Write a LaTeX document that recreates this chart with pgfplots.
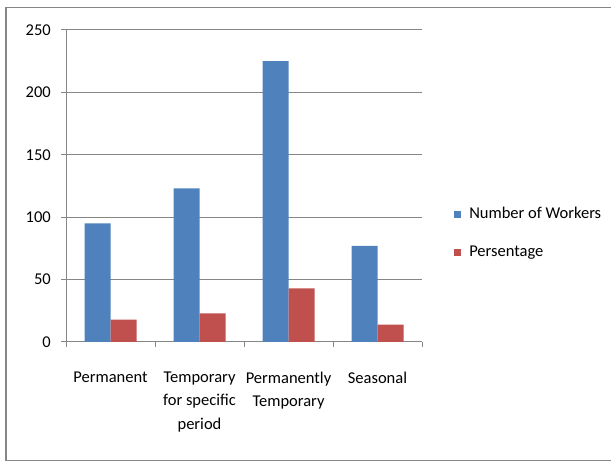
\documentclass[border=0pt]{standalone}
\usepackage{pgfplots}
\pgfplotsset{compat=1.18}
\usepackage{fontspec}
\setmainfont{Carlito}
\definecolor{xlblue}{HTML}{4F81BD}
\definecolor{xlred}{HTML}{C0504D}
\definecolor{xlgrid}{HTML}{868686}
\newcommand{\chartfont}{\fontsize{16.5}{23.5}\selectfont}
\pgfplotsset{sqlegend/.style={legend image code/.code={\fill[##1] (0pt,-3.8pt) rectangle (7.6pt,3.8pt);}}}
\begin{document}
\begin{tikzpicture}
\useasboundingbox (0,0) rectangle (611pt,462pt);
\draw[xlgrid, line width=1.8pt] (620pt,454.5pt) -- (6pt,454.5pt) -- (6pt,1.5pt) -- (620pt,1.5pt);
\begin{axis}[
  at={(66pt,120pt)}, anchor=south west,
  scale only axis, width=356pt, height=312pt,
  ybar=0pt, bar width=26pt,
  xmin=-0.5, xmax=3.5, ymin=0, ymax=250,
  xtick={0,1,2,3},
  xticklabels={Permanent,Temporary\\for specific\\period,Permanently\\Temporary,Seasonal},
  minor xtick={-0.5,0.5,1.5,2.5,3.5},
  ytick={0,50,100,150,200,250},
  axis lines*=left,
  axis line style={xlgrid, line width=1pt},
  ymajorgrids, major grid style={xlgrid, line width=1pt},
  tick align=outside,
  major tick length=5pt, minor tick length=5pt,
  major x tick style={draw=none},
  tick style={xlgrid, line width=1pt},
  /pgf/number format/assume math mode=true,
  tick label style={font=\chartfont},
  xticklabel style={align=center, anchor=north, inner sep=0pt, yshift=-24.5pt},
  yticklabel style={anchor=east, inner sep=0pt, xshift=-10pt},
  legend style={at={(1.08,0.348)}, anchor=west, draw=none, fill=none,
    font=\chartfont, legend cell align=left, row sep=24pt,
    nodes={inner sep=0pt, text height=11pt, text depth=3pt}},
]
\addplot[fill=xlblue, draw=none, sqlegend]
  coordinates {(0,95) (1,123) (2,225) (3,77)};
\addlegendentry{\hspace{8pt}Number of Workers}
\addplot[fill=xlred, draw=none, sqlegend]
  coordinates {(0,18) (1,23) (2,43) (3,14)};
\addlegendentry{\hspace{8pt}Persentage}
\end{axis}
\end{tikzpicture}
\end{document}
